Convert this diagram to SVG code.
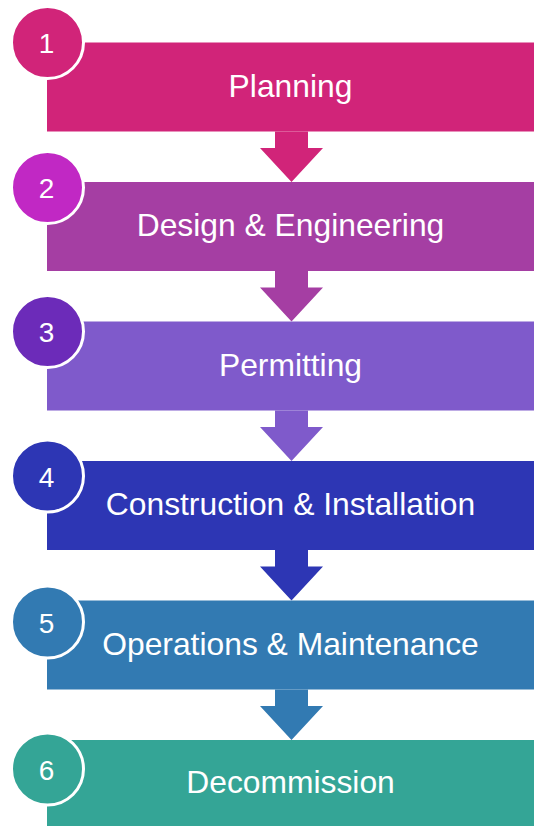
<svg xmlns="http://www.w3.org/2000/svg" width="534" height="826" viewBox="0 0 534 826">
<style>
.lbl{font-family:"Liberation Sans",Arial,sans-serif;font-size:31.8px;fill:#fff;text-anchor:middle}
.num{font-family:"Liberation Sans",Arial,sans-serif;font-size:28px;fill:#fff;text-anchor:middle}
.circ{stroke:#fff;stroke-width:3}
</style>
<rect width="534" height="826" fill="#fff"/>
<g id="connectors">
<polygon points="275,131.5 308,131.5 308,148 323,148 291.5,182 260,148 275,148" fill="#D12479"/>
<polygon points="275,271 308,271 308,287.5 323,287.5 291.5,321.5 260,287.5 275,287.5" fill="#A53EA3"/>
<polygon points="275,410.5 308,410.5 308,427 323,427 291.5,461 260,427 275,427" fill="#7F5ACB"/>
<polygon points="275,550 308,550 308,566.5 323,566.5 291.5,600.5 260,566.5 275,566.5" fill="#2D36B4"/>
<polygon points="275,689.5 308,689.5 308,706 323,706 291.5,740 260,706 275,706" fill="#327AB2"/>
</g>
<g id="step1">
<rect x="47" y="42.5" width="487" height="89" fill="#D12479"/>
<text class="lbl" x="290.5" y="96.7">Planning</text>
<circle class="circ" cx="47.5" cy="42.5" r="36" fill="#D12479"/>
<text class="num" x="46.5" y="53">1</text>
</g>
<g id="step2">
<rect x="47" y="182" width="487" height="89" fill="#A53EA3"/>
<text class="lbl" x="290.5" y="236.2">Design &amp; Engineering</text>
<circle class="circ" cx="47.5" cy="187.5" r="36" fill="#C128C4"/>
<text class="num" x="46.5" y="198">2</text>
</g>
<g id="step3">
<rect x="47" y="321.5" width="487" height="89" fill="#7F5ACB"/>
<text class="lbl" x="290.5" y="375.7">Permitting</text>
<circle class="circ" cx="47.5" cy="331.5" r="36" fill="#6C2BB9"/>
<text class="num" x="46.5" y="342">3</text>
</g>
<g id="step4">
<rect x="47" y="461" width="487" height="89" fill="#2D36B4"/>
<text class="lbl" x="290.5" y="515.2">Construction &amp; Installation</text>
<circle class="circ" cx="47.5" cy="476" r="36" fill="#2D36B4"/>
<text class="num" x="46.5" y="486.5">4</text>
</g>
<g id="step5">
<rect x="47" y="600.5" width="487" height="89" fill="#327AB2"/>
<text class="lbl" x="290.5" y="654.7">Operations &amp; Maintenance</text>
<circle class="circ" cx="47.5" cy="622" r="36" fill="#327AB2"/>
<text class="num" x="46.5" y="632.5">5</text>
</g>
<g id="step6">
<rect x="47" y="740" width="487" height="89" fill="#34A596"/>
<text class="lbl" x="290.5" y="793.3">Decommission</text>
<circle class="circ" cx="47.5" cy="769" r="36" fill="#34A596"/>
<text class="num" x="46.5" y="779.5">6</text>
</g>
</svg>
